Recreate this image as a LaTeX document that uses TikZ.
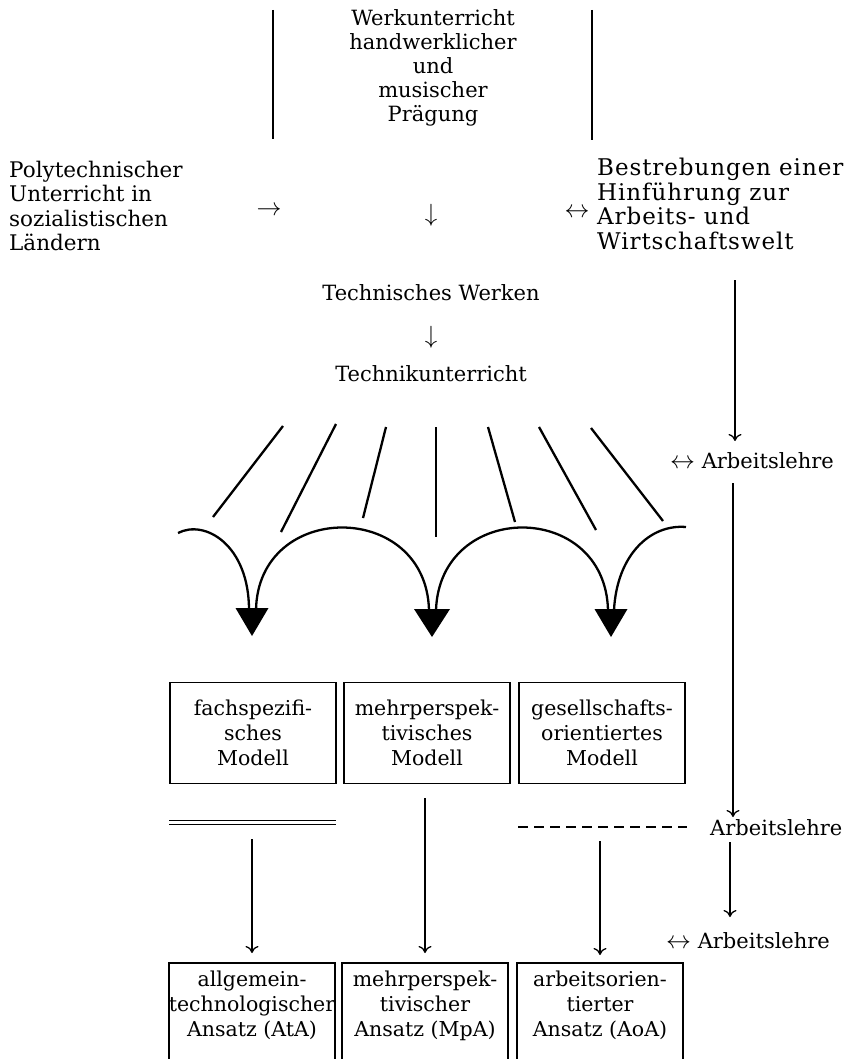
\documentclass[tikz,border=0pt]{standalone}
\usepackage{fontspec}
\setmainfont{DejaVu Serif}
\usetikzlibrary{arrows.meta}
\begin{document}
\begin{tikzpicture}[x=1pt,y=-1pt,
  lbl/.style={font=\fontsize{21}{24}\selectfont, inner sep=0pt, align=center},
  lbll/.style={lbl, align=left},
  sym/.style={font=\fontsize{32}{32}\selectfont, inner sep=0pt},
  model/.style={draw, line width=1.8pt, minimum width=166pt, minimum height=101pt,
    inner sep=0pt, align=center, font=\fontsize{20.5}{25}\selectfont},
  flow/.style={line width=1.3pt, -{To[length=7pt,width=13pt]}},
  sideline/.style={line width=1.6pt},
  rayline/.style={line width=2.3pt},
  arcline/.style={line width=2.3pt},
  headfill/.style={fill=black}]
\clip (0,0) rectangle (847,1059);
\fill[white] (0,0) rectangle (847,1059);

% --- upper block ---
\node[lbl] (werk) at (433,68) {Werkunterricht\\handwerklicher\\und\\musischer\\Prägung};
\coordinate (la) at (273,10);  \coordinate (lb) at (273,139);
\coordinate (ra) at (592,10);  \coordinate (rb) at (592,140);
\draw[sideline] (la) -- (lb);
\draw[sideline] (ra) -- (rb);

\node[lbll, anchor=west, font=\fontsize{21.5}{24.5}\selectfont] (poly) at (9,206)
  {Polytechnischer\\Unterricht in\\sozialistischen\\Ländern};
\node[sym] (toright) at (269,211) {$\rightarrow$};
\node[sym] (todown) at (431,215) {$\downarrow$};
\node[sym] (both) at (577,213) {$\leftrightarrow$};
\node[lbll, anchor=west, font=\fontsize{23}{24.5}\selectfont\addfontfeatures{LetterSpace=4}] (streb) at (597,204)
  {Bestrebungen einer\\Hinführung zur\\Arbeits- und\\Wirtschaftswelt};

\node[lbl, anchor=base] (werken) at (431,300) {Technisches Werken};
\node[sym, font=\fontsize{35}{35}\selectfont] (todown2) at (431,337) {$\downarrow$};
\node[lbl, anchor=base] (tech) at (431,381) {Technikunterricht};

% --- right column ---
\coordinate (c1a) at (735,280); \coordinate (c1b) at (735,441);
\draw[flow] (c1a) -- (c1b);
\node[lbl, anchor=base west] (al1) at (670,468) {\fontsize{32}{32}\selectfont$\leftrightarrow$\fontsize{21}{24}\selectfont\ Arbeitslehre};
\coordinate (c2a) at (733,483); \coordinate (c2b) at (733,817);
\draw[flow] (c2a) -- (c2b);
\node[lbl, anchor=base west] (al2) at (710,835) {Arbeitslehre};
\coordinate (c3a) at (730,842); \coordinate (c3b) at (730,917);
\draw[flow] (c3a) -- (c3b);
\node[lbl, anchor=base west] (al3) at (666,948) {\fontsize{32}{32}\selectfont$\leftrightarrow$\fontsize{21}{24}\selectfont\ Arbeitslehre};

% --- fan of rays ---
\draw[rayline] (283,426) -- (213,517);
\draw[rayline] (336,424) -- (281,532);
\draw[rayline] (386,427) -- (363,518);
\draw[rayline] (436,427) -- (436,537);
\draw[rayline] (488,427) -- (515,522);
\draw[rayline] (539,427) -- (596,530);
\draw[rayline] (591,428) -- (663,521);

% --- merging arcs with heavy heads ---
\coordinate (h1) at (252,636);
\coordinate (h2) at (432,637);
\coordinate (h3) at (611,637);
\fill[headfill] (h1) -- ++(-16.5,-28) -- ++(33,0) -- cycle;
\fill[headfill] (h2) -- ++(-18,-28) -- ++(36,0) -- cycle;
\fill[headfill] (h3) -- ++(-16.5,-28) -- ++(33,0) -- cycle;
\draw[arcline] (178,533) .. controls (205,519) and (249,545) .. (249,610);
\draw[arcline] (256,610) .. controls (258,500) and (426,500) .. (429,610);
\draw[arcline] (436,610) .. controls (440,500) and (605,500) .. (608,610);
\draw[arcline] (614,610) .. controls (617,555) and (650,524) .. (686,527);

% --- models ---
\node[model] (m1) at (253,733) {fachspezifi-\\sches\\Modell};
\node[model] (m2) at (427,733) {mehrperspek-\\tivisches\\Modell};
\node[model] (m3) at (602,733) {gesellschafts-\\orientiertes\\Modell};

% --- separators ---
\coordinate (da) at (169,822.5); \coordinate (db) at (336,822.5);
\draw[double, double distance=2.4pt, line width=1pt] (da) -- (db);
\coordinate (ea) at (518,827); \coordinate (eb) at (687,827);
\draw[line width=1.3pt, dash pattern=on 10pt off 6pt] (ea) -- (eb);

% --- approaches ---
\node[model, anchor=north, minimum height=120pt] (a1) at (252,962) {allgemein-\\technologischer\\Ansatz (AtA)\\[14pt]};
\node[model, anchor=north, minimum height=120pt] (a2) at (425,962) {mehrperspek-\\tivischer\\Ansatz (MpA)\\[14pt]};
\node[model, anchor=north, minimum height=120pt] (a3) at (600,962) {arbeitsorien-\\tierter\\Ansatz (AoA)\\[14pt]};

\coordinate (s1) at (252,839);
\coordinate (s2) at (425,798);
\coordinate (s3) at (600,841);
\draw[flow] (s1) -- (a1.north |- 0,953);
\draw[flow] (s2) -- (a2.north |- 0,953);
\draw[flow] (s3) -- (a3.north |- 0,955);
\end{tikzpicture}
\end{document}
